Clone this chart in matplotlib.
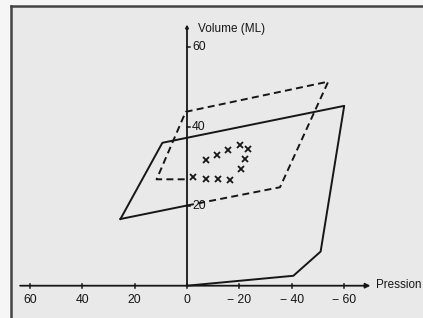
import matplotlib.pyplot as plt
from matplotlib.lines import Line2D

# pression (positive to the left) and volume values
solid_upper_p = [25.4, 9.4, -60.0, -51.0, -40.6, 0.0]
solid_upper_v = [16.8, 36.0, 45.3, 8.6, 2.5, 0.0]

solid_lower_p = [25.4, 0.0]
solid_lower_v = [16.8, 20.2]

dashed_p = [0.0, -35.5, -53.9, 0.5, 11.6, 0.0]
dashed_v = [20.2, 24.8, 51.4, 43.8, 26.8, 26.8]

cross_p = [-2.2, -7.1, -11.8, -16.4, -20.6, -22.3, -23.4, -20.3, -15.6, -11.3, -7.1]
cross_v = [27.3, 27.0, 26.9, 26.7, 29.3, 31.8, 34.4, 35.5, 34.2, 32.9, 31.7]

x_ticks = [60, 40, 20, 0, -20, -40, -60]
x_labels = ["60", "40", "20", "0", "\u2212 20", "\u2212 40", "\u2212 60"]
y_ticks = [20, 40, 60]
y_labels = ["20", "40", "60"]

ink = "#161616"
plt.rcParams['font.family'] = ['Liberation Sans', 'DejaVu Sans']

fig = plt.figure(figsize=(4.23, 3.18), dpi=100)
fig.patch.set_facecolor("#f6f6f6")

# scanned page frame
fig.patches.append(plt.Rectangle((11 / 423, 0), 1, 1 - 6 / 318, transform=fig.transFigure,
                                 facecolor="#e9e9e9", edgecolor="none", zorder=-5))
fig.lines.append(Line2D([11 / 423, 11 / 423], [0, 1 - 6 / 318], transform=fig.transFigure,
                        color="#444444", lw=1.8, zorder=-4))
fig.lines.append(Line2D([11 / 423, 1], [1 - 6 / 318, 1 - 6 / 318], transform=fig.transFigure,
                        color="#444444", lw=1.8, zorder=-4))

ax = fig.add_axes([0, 0, 1, 1])
ax.set_facecolor("none")
ax.set_xlim(187 / 2.62, (187 - 423) / 2.62)
ax.set_ylim((285.7 - 318) / 3.97, 285.7 / 3.97)
ax.axis("off")

# axes with arrows
ax.annotate("", xy=(-70, 0), xytext=(63.7, 0),
            arrowprops=dict(arrowstyle="-|>", color=ink, lw=1.3, mutation_scale=7, shrinkA=0, shrinkB=0))
ax.annotate("", xy=(0, 65.8), xytext=(0, 0),
            arrowprops=dict(arrowstyle="-|>", color=ink, lw=1.3, mutation_scale=4, shrinkA=0, shrinkB=0))

for t, lab in zip(x_ticks, x_labels):
    ax.plot([t, t], [-0.5, 0.5], color=ink, lw=1.1)
    ax.text(t, -3.6, lab, ha="center", va="center", fontsize=8.8, color=ink)

for t, lab in zip(y_ticks, y_labels):
    ax.plot([0, -1.3], [t, t], color=ink, lw=1.1)
    ax.text(-1.9, t, lab, ha="left", va="center", fontsize=8.8, color=ink)

ax.text(-4.1, 64.6, "Volume (ML)", ha="left", va="center", fontsize=8.5, color=ink)
ax.text(-72.2, 0.2, "Pression", ha="left", va="center", fontsize=8.4, color=ink)

ax.plot(solid_upper_p, solid_upper_v, color=ink, lw=1.4)
ax.plot(solid_lower_p, solid_lower_v, color=ink, lw=1.4)
ax.plot(dashed_p, dashed_v, color=ink, lw=1.4, linestyle=(0, (3.6, 2.2)))
ax.plot(cross_p, cross_v, "x", color=ink, markersize=4.2, markeredgewidth=1.3)

fig.savefig("out.png", dpi=100)
